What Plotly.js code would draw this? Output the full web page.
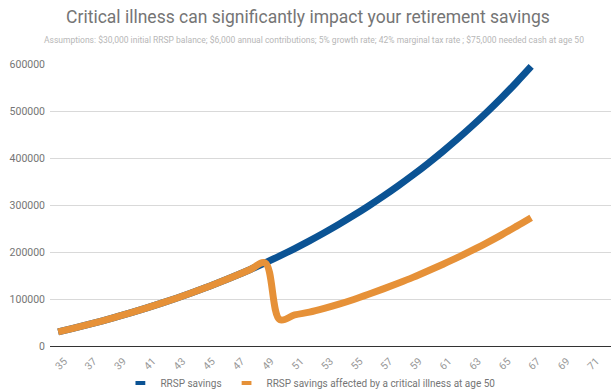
<!DOCTYPE html>
<html>
<head>
<meta charset="utf-8">
<script src="https://cdn.plot.ly/plotly-3.0.1.min.js"></script>
<style>
  html, body { margin: 0; padding: 0; background: #ffffff; }
  #chart { width: 611px; height: 392px; }
</style>
</head>
<body>
<div id="chart"></div>
<script>
// Age of the saver, one point per year
const ages = [35, 36, 37, 38, 39, 40, 41, 42, 43, 44, 45, 46, 47, 48, 49, 50,
              51, 52, 53, 54, 55, 56, 57, 58, 59, 60, 61, 62, 63, 64, 65, 66, 67];

// RRSP balance with no interruption
const rrspSavings = [30000, 37500, 45375, 53644, 62326, 71442, 81014, 91065, 101618,
                     112699, 124334, 136551, 149378, 162847, 176990, 191839, 207431,
                     223803, 240993, 259042, 277995, 297894, 318789, 340728, 363765,
                     387953, 413350, 440018, 468019, 497420, 528291, 560706, 594741];

// RRSP balance after the withdrawal needed for a critical illness at 50
const rrspIllness = [30000, 37500, 45375, 53644, 62326, 71442, 81014, 91065, 101618,
                     112699, 124334, 136551, 149378, 162847, 176990, 56000, 66000,
                     72000, 80000, 89000, 99000, 110000, 121500, 133500, 146000,
                     159500, 173500, 188000, 203500, 219500, 236500, 254500, 273000];

const seriesNames = ['RRSP savings', 'RRSP savings affected by a critical illness at age 50'];
const seriesColors = ['#0b5394', '#e69138'];

const titleText = 'Critical illness can significantly impact your retirement savings';
const subtitleText = 'Assumptions: $30,000 initial RRSP balance; $6,000 annual contributions; 5% growth rate; 42% marginal tax rate ; $75,000 needed cash at age 50';

const FONT = 'Roboto, "Open Sans", Arial, sans-serif';

const lineTrace = (y, i) => ({
  x: ages,
  y: y,
  type: 'scatter',
  mode: 'lines',
  name: seriesNames[i],
  showlegend: false,
  line: { color: seriesColors[i], width: 7, shape: 'spline', smoothing: 1 },
  hoverinfo: 'x+y'
});

// Legend entries drawn as short bars
const legendTrace = (i) => ({
  x: [null],
  y: [null],
  type: 'scatter',
  mode: 'markers',
  name: seriesNames[i],
  marker: { symbol: 'line-ew', size: 7, color: seriesColors[i],
            line: { color: seriesColors[i], width: 4 } },
  hoverinfo: 'skip'
});

const data = [
  lineTrace(rrspSavings, 0),
  lineTrace(rrspIllness, 1),
  legendTrace(0),
  legendTrace(1)
];

const layout = {
  width: 611,
  height: 392,
  margin: { l: 50, r: 0, t: 64, b: 46 },
  paper_bgcolor: '#ffffff',
  plot_bgcolor: '#ffffff',
  font: { family: FONT, color: '#757575' },
  title: {
    text: titleText,
    font: { family: FONT, size: 17.5, color: '#757575' },
    xref: 'container', x: 0.504, xanchor: 'center',
    yref: 'container', y: 0.957, yanchor: 'middle'
  },
  annotations: [{
    text: subtitleText,
    xref: 'paper', yref: 'paper',
    x: 0.47, y: 1.085, xanchor: 'center', yanchor: 'middle',
    showarrow: false,
    font: { family: FONT, size: 8.5, color: '#b7b7b7' }
  }],
  xaxis: {
    type: 'linear',
    range: [34.45, 72.4],
    tick0: 35, dtick: 2,
    tickangle: -45,
    ticklabelshift: 6,
    ticklabelstandoff: 4,
    tickfont: { family: FONT, size: 10.5, color: '#999999' },
    showgrid: false,
    zeroline: false,
    showline: true,
    linecolor: '#333333',
    linewidth: 1,
    ticks: '',
    automargin: false,
    fixedrange: true
  },
  yaxis: {
    range: [0, 600000],
    dtick: 100000,
    tickformat: 'd',
    tickfont: { family: FONT, size: 10.5, color: '#757575' },
    ticklabelstandoff: 4,
    gridcolor: '#d9d9d9',
    gridwidth: 1,
    zeroline: false,
    showline: false,
    ticks: '',
    automargin: false,
    fixedrange: true
  },
  legend: {
    orientation: 'h',
    xref: 'container', x: 0.508, xanchor: 'center',
    yref: 'container', y: 0.023, yanchor: 'middle',
    font: { family: FONT, size: 10, color: '#757575' },
    itemwidth: 30,
    bgcolor: 'rgba(0,0,0,0)'
  },
  showlegend: true
};

Plotly.newPlot('chart', data, layout, { displayModeBar: false, staticPlot: true });
</script>
</body>
</html>
